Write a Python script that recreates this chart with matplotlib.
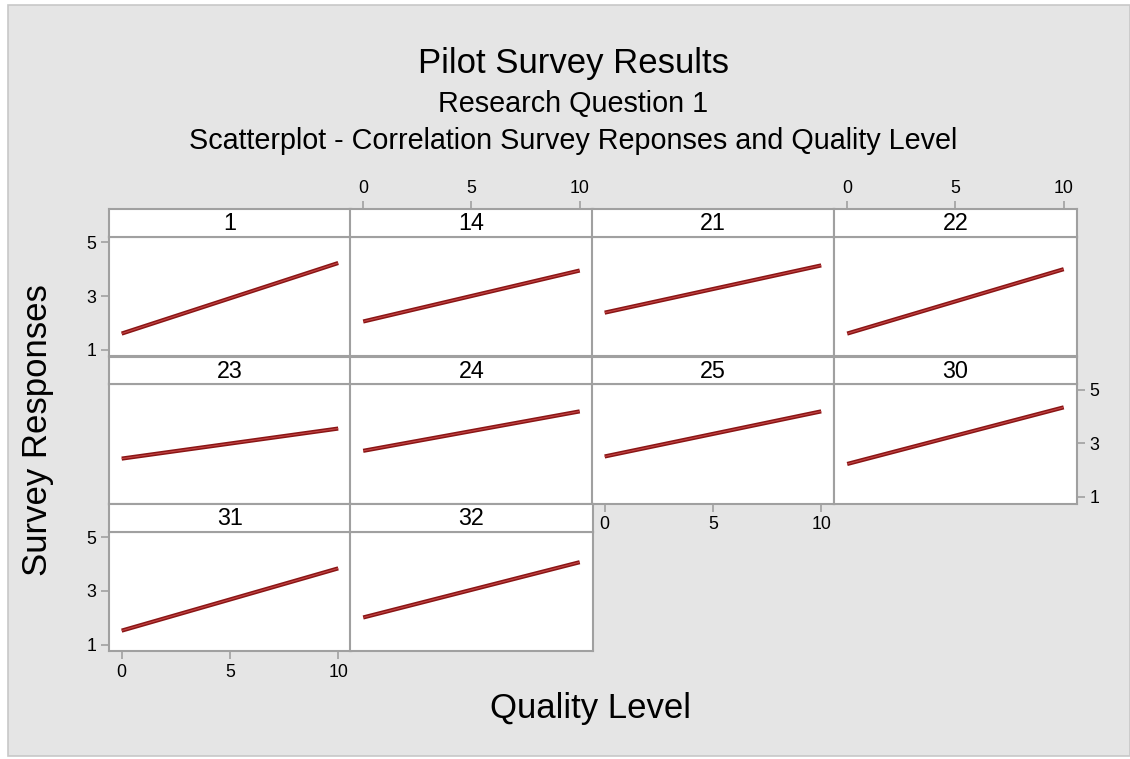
import matplotlib
matplotlib.use("Agg")
import matplotlib.pyplot as plt
from matplotlib.patches import Rectangle

# Panel identifiers and fitted response at quality level 0 and 10
panels = ["1", "14", "21", "22", "23", "24", "25", "30", "31", "32"]
quality = [0, 10]
resp_at_0 = [1.60, 2.05, 2.38, 1.60, 2.43, 2.72, 2.51, 2.23, 1.52, 2.01]
resp_at_10 = [4.23, 3.95, 4.14, 4.00, 3.55, 4.19, 4.19, 4.34, 3.84, 4.07]

x_ticks = [0, 5, 10]
y_ticks = [1, 3, 5]

title = "Pilot Survey Results"
subtitle1 = "Research Question 1"
subtitle2 = "Scatterplot - Correlation Survey Reponses and Quality Level"
x_label = "Quality Level"
y_label = "Survey Responses"

plt.rcParams["font.family"] = ["Liberation Sans", "DejaVu Sans"]

W, H = 1130, 759
fig = plt.figure(figsize=(W / 100, H / 100), dpi=100)
fig.patch.set_facecolor("white")

def fx(px):
    return px / W

def fy(py):
    return 1 - py / H

# outer gray frame
fig.patches.append(Rectangle((fx(8), fy(756)), fx(1130) - fx(8), fy(5) - fy(756),
                             transform=fig.transFigure, facecolor="#E5E5E5",
                             edgecolor="#C8C8C8", linewidth=1.2, zorder=-10))

GRID = "#A0A0A0"
col_left = [108.7, 350.2, 591.7, 834.2]
panel_w = 242.5
plot_top = [236.7, 384.0, 531.6]
plot_h = 119.7
head_h = 27.4
xlim = (-0.6, 10.6)
ylim = (0.75, 5.21)

# tick placement per panel index
tick_sides = {
    0: dict(left=True),
    1: dict(top=True),
    3: dict(top=True),
    6: dict(bottom=True),
    7: dict(right=True),
    8: dict(left=True, bottom=True),
}

def style(ax):
    for s in ax.spines.values():
        s.set_color(GRID)
        s.set_linewidth(1.5)
    ax.tick_params(colors="black", labelsize=12.8, length=5.5, width=1.2,
                   color=GRID, pad=3.5)
    ax.tick_params(left=False, right=False, top=False, bottom=False,
                   labelleft=False, labelright=False, labeltop=False,
                   labelbottom=False)

for i, name in enumerate(panels):
    r, c = divmod(i, 4)
    left = col_left[c]
    top = plot_top[r]
    ax = fig.add_axes([fx(left), fy(top + plot_h), panel_w / W, plot_h / H])
    hax = fig.add_axes([fx(left), fy(top), panel_w / W, head_h / H])
    for a in (ax, hax):
        a.set_facecolor("white")
        style(a)
        a.set_xlim(*xlim)
    ax.set_ylim(*ylim)
    ax.set_xticks(x_ticks)
    ax.set_yticks(y_ticks)
    hax.set_xticks(x_ticks)
    hax.set_yticks([])
    hax.text(0.5, 0.47, name, transform=hax.transAxes, ha="center",
             va="center", fontsize=16.8)

    ys = [resp_at_0[i], resp_at_10[i]]
    ax.plot(quality, ys, color="#8A1515", linewidth=3.0,
            solid_capstyle="butt", zorder=3)
    ax.plot(quality, ys, color="#C44545", linewidth=0.8,
            solid_capstyle="butt", zorder=4)

    sides = tick_sides.get(i, {})
    if sides.get("left"):
        ax.tick_params(left=True, labelleft=True)
    if sides.get("right"):
        ax.tick_params(right=True, labelright=True)
    if sides.get("bottom"):
        ax.tick_params(bottom=True, labelbottom=True)
    if sides.get("top"):
        hax.tick_params(top=True, labeltop=True)

fig.text(fx(573), fy(73), title, ha="center", va="baseline", fontsize=25)
fig.text(fx(573), fy(112), subtitle1, ha="center", va="baseline", fontsize=20.7)
fig.text(fx(573), fy(149), subtitle2, ha="center", va="baseline", fontsize=20.7)
fig.text(fx(591), fy(718), x_label, ha="center", va="baseline", fontsize=25)
fig.text(fx(38), fy(430), y_label, ha="center", va="center", rotation=90,
         fontsize=25)

fig.savefig("out.png", dpi=100)
